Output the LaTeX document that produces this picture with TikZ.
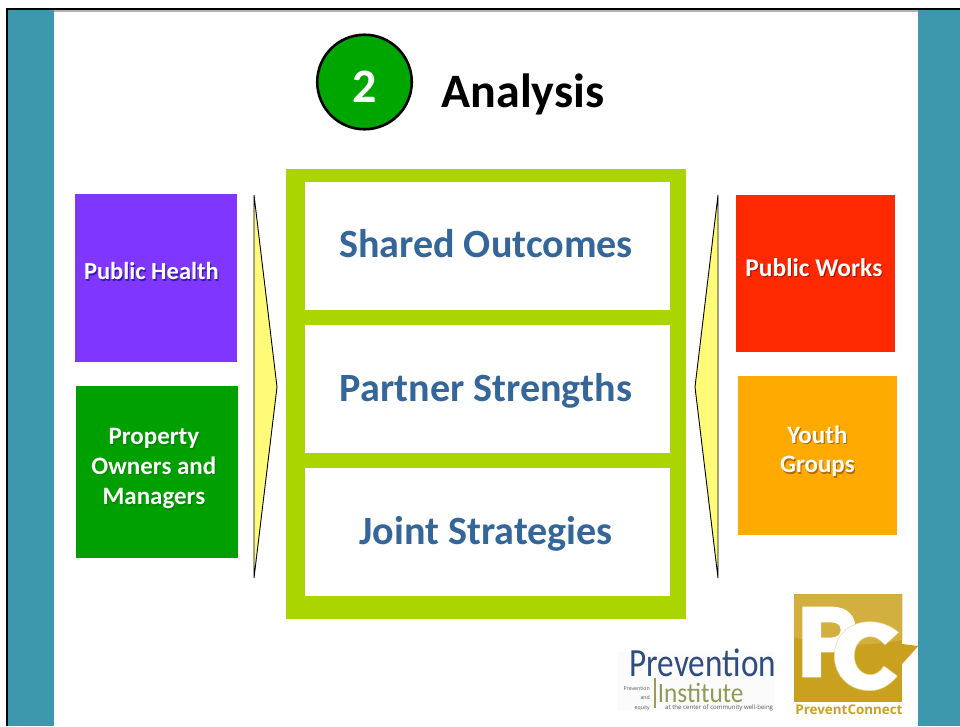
\documentclass[tikz,border=0pt]{standalone}
\usepackage{graphicx}
\usepackage{fontspec}
\setmainfont{Carlito}
\newfontfamily\logofont{Open Sans}
\definecolor{teal}{HTML}{3D97AD}
\definecolor{lime}{HTML}{AAD500}
\definecolor{heading}{HTML}{356699}
\definecolor{pal}{HTML}{FFFB78}
\definecolor{goldA}{HTML}{D3AF40}
\definecolor{goldB}{HTML}{C9A11E}
\definecolor{pblue}{HTML}{2E4C7E}
\definecolor{polive}{HTML}{8F9B57}
\definecolor{pgrey}{HTML}{555555}
\newcommand{\shadowed}[2]{\tikz[baseline=(t.base)]{\node[inner sep=0pt,align=center,text=#1!45!black,opacity=.55,xshift=1.2pt,yshift=-1.4pt] {#2};\node[inner sep=0pt,align=center,text=white] (t) {#2};}}
\tikzset{
  x=1pt,y=-1pt,
  bar/.style={fill=teal,draw=none},
  partner/.style={draw=none,align=center,inner sep=0pt},
  panel/.style={fill=white,draw=none,inner sep=0pt,minimum width=365pt,minimum height=128pt},
  headtext/.style={text=heading,font=\bfseries\fontsize{40.1}{40}\selectfont,inner sep=0pt,anchor=base},
  wedge/.style={fill=pal,draw=black,line width=.9pt,line join=miter},
}
\begin{document}
\begin{tikzpicture}
\useasboundingbox (0,0) rectangle (960,726);
\fill[white] (0,0) rectangle (960,726);
% slide frame
\fill[bar] (8,10) rectangle (54,726);
\fill[bar] (918,10) rectangle (960,726);
\fill[black!30] (54,10) rectangle (918,11.5);
\fill[black] (6,8) rectangle (960,10.3);
\fill[black] (6,8) rectangle (8,726);
% title
\node[circle,draw=black,line width=2.6pt,fill=green!65!black,minimum size=94.5pt,inner sep=0pt] (num) at (364.5,82) {};
\node[anchor=base,text=white,font=\bfseries\fontsize{48}{48}\selectfont,inner sep=0pt] (numt) at (364.5,102.5) {2};
\node[anchor=base,font=\bfseries\fontsize{48}{48}\selectfont,text=black,inner sep=0pt] (title) at (523,107) {Analysis};
% centre frame
\fill[lime] (286,169) rectangle (686,619);
\node[panel] (p1) at (487.5,246) {};
\node[panel] (p2) at (487.5,389) {};
\node[panel] (p3) at (487.5,532) {};
\node[headtext] at (486,257) {Shared Outcomes};
\node[headtext] at (486,401) {Partner Strengths};
\node[headtext] at (486,544) {Joint Strategies};
% wedges
\draw[wedge] (254,195) -- (277,387) -- (254,578) -- cycle;
\draw[wedge] (718,195) -- (695,387) -- (718,578) -- cycle;
% partners
\fill[fill={rgb,255:red,127;green,55;blue,255}] (75,194) rectangle (237,362);
\fill[fill={rgb,255:red,0;green,160;blue,0}] (76,386) rectangle (238,558);
\fill[fill={rgb,255:red,255;green,41;blue,0}] (736,195) rectangle (895,352);
\fill[fill={rgb,255:red,255;green,170;blue,0}] (738,376) rectangle (897,535);
\node[partner,font=\bfseries\fontsize{24.5}{30}\selectfont] (a) at (152,272) {\shadowed{blue}{Public Health}};
\node[partner,font=\bfseries\fontsize{25}{30}\selectfont] (b) at (154.5,469.5) {\shadowed{green}{Property\\[-.5pt]Owners and\\[.5pt]Managers}};
\node[partner,font=\bfseries\fontsize{25.5}{30}\selectfont] (c) at (814.5,268) {\shadowed{red}{Public Works}};
\node[partner,font=\bfseries\fontsize{25}{30}\selectfont] (d) at (818,452) {\shadowed{orange}{Youth\\[-.5pt]Groups}};
% PreventConnect logo
\begin{scope}[shift={(790,590)},x=1pt/3,y=-1pt/3]
\fill[goldB] (13,13) rectangle (337,337);
\fill[goldA] (13,13) -- (337,13) -- (337,150) .. controls (220,170) and (120,170) .. (13,142) -- cycle;
\fill[goldB] (320,160) -- (385,168) -- (320,240) -- cycle;
\fill[white,even odd rule] (37,50) -- (125,50) .. controls (175,50) and (197,80) .. (197,118) .. controls (197,160) and (170,187) .. (125,187) -- (93,187) -- (93,262) -- (37,262) -- cycle
  (93,97) -- (93,143) -- (122,143) .. controls (142,143) and (152,132) .. (152,120) .. controls (152,106) and (142,97) .. (122,97) -- cycle;
\fill[white,draw=goldA!50,line width=.5pt] (326,127) .. controls (300,105) and (268,95) .. (240,95)
  .. controls (175,95) and (133,140) .. (133,197) .. controls (133,260) and (180,302) .. (240,302)
  .. controls (272,302) and (300,285) .. (322,258) -- (282,228) .. controls (270,245) and (258,254) .. (242,254)
  .. controls (213,254) and (193,230) .. (193,197) .. controls (193,165) and (213,140) .. (242,140)
  .. controls (258,140) and (272,150) .. (285,165) -- cycle;
\node[inner sep=0pt,text=goldB,font=\logofont\bfseries\fontsize{13.4}{13.4}\selectfont] (pcname) at (177,359) {PreventConnect};
\end{scope}
% Prevention Institute logo
\begin{scope}[shift={(615,645)},x=1pt/3,y=-1pt/3]
\fill[black!1.5] (5,20) rectangle (480,195);
\fill[polive!70!goldB] (118,100) rectangle (123,190);
\node[anchor=base west,inner sep=0pt,text=pblue,font=\fontsize{40}{40}\selectfont] (pi1) at (43,95) {\scalebox{.83}[1]{Prevention}};
\node[anchor=base west,inner sep=0pt,text=polive,font=\fontsize{28}{28}\selectfont] (pi2) at (128,172) {\scalebox{.9}[1]{Institute}};
\node[anchor=base east,inner sep=0pt,text=pgrey,font=\logofont\fontsize{5.2}{6}\selectfont] at (105,137) {Prevention};
\node[anchor=base east,inner sep=0pt,text=pgrey,font=\logofont\fontsize{5.2}{6}\selectfont] at (105,163) {and};
\node[anchor=base east,inner sep=0pt,text=pgrey,font=\logofont\fontsize{5.2}{6}\selectfont] at (105,192) {equity};
\node[anchor=base west,inner sep=0pt,text=pgrey,font=\logofont\fontsize{6.1}{6}\selectfont] at (150,192) {at the center of community well-being};
\end{scope}
\end{tikzpicture}
\end{document}
